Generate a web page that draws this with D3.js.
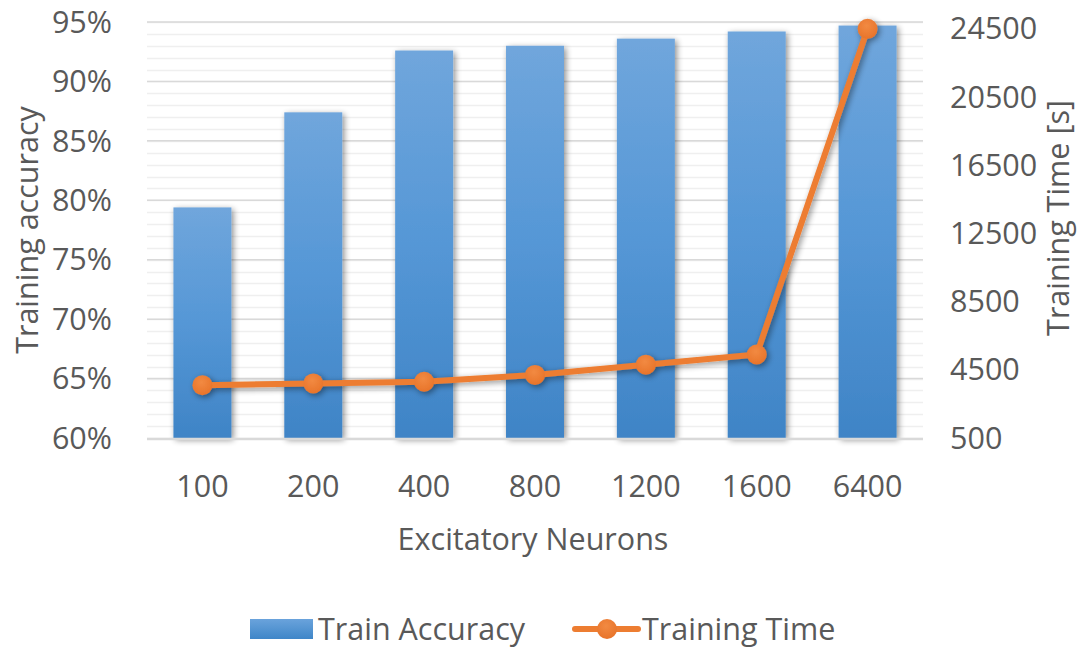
<!DOCTYPE html>
<html>
<head>
<meta charset="utf-8">
<script src="https://cdn.jsdelivr.net/npm/d3@7"></script>
<style>
  html, body { margin: 0; padding: 0; background: #fff; }
  svg { display: block; font-family: "Open Sans", sans-serif; }
</style>
</head>
<body>
<svg id="chart" width="1080" height="649"></svg>
<script>
// Neuron counts on the category axis
const categories = ["100", "200", "400", "800", "1200", "1600", "6400"];
// Training accuracy per network size (fraction)
const accuracy = [0.794, 0.874, 0.926, 0.930, 0.936, 0.942, 0.947];
// Training time per network size (seconds)
const trainingTime = [3600, 3700, 3800, 4200, 4800, 5400, 24500];
// Axis tick values
const accTicks = [0.60, 0.65, 0.70, 0.75, 0.80, 0.85, 0.90, 0.95];
const timeTicks = [500, 4500, 8500, 12500, 16500, 20500, 24500];

const svg = d3.select("#chart");
const plot = { left: 147, right: 923, top: 22, bottom: 438 };
const textColor = "#595959";
const fontSize = 30.5;

const x = d3.scaleBand()
  .domain(categories)
  .range([plot.left, plot.right])
  .paddingInner(0.477)
  .paddingOuter(0.2385);

const yAcc = d3.scaleLinear().domain([0.60, 0.95]).range([plot.bottom, plot.top]);
const yTime = d3.scaleLinear().domain([500, 24900]).range([plot.bottom, plot.top]);

const defs = svg.append("defs");

const barGrad = defs.append("linearGradient")
  .attr("id", "barGrad").attr("x1", 0).attr("y1", 0).attr("x2", 0).attr("y2", 1);
barGrad.append("stop").attr("offset", "0%").attr("stop-color", "#70a6dc");
barGrad.append("stop").attr("offset", "50%").attr("stop-color", "#5597d6");
barGrad.append("stop").attr("offset", "100%").attr("stop-color", "#3f84c6");

const legGrad = defs.append("linearGradient")
  .attr("id", "legGrad").attr("x1", 0).attr("y1", 0).attr("x2", 0).attr("y2", 1);
legGrad.append("stop").attr("offset", "0%").attr("stop-color", "#6aa3dc");
legGrad.append("stop").attr("offset", "100%").attr("stop-color", "#3f86c8");

const markGrad = defs.append("radialGradient")
  .attr("id", "markGrad").attr("cx", "45%").attr("cy", "35%").attr("r", "65%");
markGrad.append("stop").attr("offset", "0%").attr("stop-color", "#f28a42");
markGrad.append("stop").attr("offset", "100%").attr("stop-color", "#e8742a");

const shadow = defs.append("filter").attr("id", "shadow")
  .attr("x", "-30%").attr("y", "-10%").attr("width", "160%").attr("height", "130%");
shadow.append("feGaussianBlur").attr("in", "SourceAlpha").attr("stdDeviation", 3.2);
shadow.append("feOffset").attr("dx", 2).attr("dy", 2).attr("result", "off");
shadow.append("feComponentTransfer").append("feFuncA").attr("type", "linear").attr("slope", 0.45);
const merge = shadow.append("feMerge");
merge.append("feMergeNode");
merge.append("feMergeNode").attr("in", "SourceGraphic");

// Gridlines: light minor lines every 1 %, darker major lines every 5 %
const minor = d3.range(60, 96).map(d => d / 100);
svg.append("g").selectAll("line").data(minor).join("line")
  .attr("x1", plot.left).attr("x2", plot.right)
  .attr("y1", d => Math.round(yAcc(d)) + 0.5).attr("y2", d => Math.round(yAcc(d)) + 0.5)
  .attr("stroke", "#efefef").attr("stroke-width", 1.5);
svg.append("g").selectAll("line").data(accTicks.slice(1)).join("line")
  .attr("x1", plot.left).attr("x2", plot.right)
  .attr("y1", d => yAcc(d)).attr("y2", d => yAcc(d))
  .attr("stroke", "#d9d9d9").attr("stroke-width", 1.5);

// Accuracy bars
svg.append("g").selectAll("rect").data(accuracy).join("rect")
  .attr("x", (d, i) => x(categories[i]))
  .attr("width", x.bandwidth())
  .attr("y", d => yAcc(d))
  .attr("height", d => yAcc(0.60) - yAcc(d))
  .attr("fill", "url(#barGrad)")
  .attr("filter", "url(#shadow)");

// Category axis baseline
svg.append("line")
  .attr("x1", plot.left).attr("x2", plot.right)
  .attr("y1", plot.bottom + 1).attr("y2", plot.bottom + 1)
  .attr("stroke", "#d9d9d9").attr("stroke-width", 2.5);

// Training time line with markers
const cx = (d, i) => x(categories[i]) + x.bandwidth() / 2;
const lineGen = d3.line().x(cx).y(d => yTime(d));
const lineG = svg.append("g").attr("filter", "url(#shadow)");
lineG.append("path").datum(trainingTime)
  .attr("d", lineGen)
  .attr("fill", "none").attr("stroke", "#ed7d31")
  .attr("stroke-width", 6).attr("stroke-linejoin", "round");
lineG.selectAll("circle").data(trainingTime).join("circle")
  .attr("cx", cx).attr("cy", d => yTime(d)).attr("r", 10)
  .attr("fill", "url(#markGrad)");

// Left axis labels
svg.append("g").selectAll("text").data(accTicks).join("text")
  .attr("x", 112).attr("y", d => yAcc(d)).attr("dy", "0.35em")
  .attr("text-anchor", "end").attr("fill", textColor).attr("font-size", fontSize)
  .text(d => d3.format(".0%")(d));

// Right axis labels
svg.append("g").selectAll("text").data(timeTicks).join("text")
  .attr("x", 950).attr("y", d => yTime(d)).attr("dy", "0.35em")
  .attr("text-anchor", "start").attr("fill", textColor).attr("font-size", fontSize)
  .text(d => d);

// Category labels
svg.append("g").selectAll("text").data(categories).join("text")
  .attr("x", d => x(d) + x.bandwidth() / 2).attr("y", 486).attr("dy", "0.35em")
  .attr("text-anchor", "middle").attr("fill", textColor).attr("font-size", fontSize)
  .text(d => d);

// Axis titles
svg.append("text")
  .attr("x", 533).attr("y", 539).attr("dy", "0.35em")
  .attr("text-anchor", "middle").attr("fill", textColor).attr("font-size", fontSize)
  .text("Excitatory Neurons");
svg.append("text")
  .attr("transform", "translate(27,230) rotate(-90)").attr("dy", "0.35em")
  .attr("text-anchor", "middle").attr("fill", textColor).attr("font-size", fontSize)
  .text("Training accuracy");
svg.append("text")
  .attr("transform", "translate(1058,218) rotate(-90)").attr("dy", "0.35em")
  .attr("text-anchor", "middle").attr("fill", textColor).attr("font-size", fontSize)
  .text("Training Time [s]");

// Legend
const leg = svg.append("g");
leg.append("rect").attr("x", 250).attr("y", 619).attr("width", 63).attr("height", 20)
  .attr("fill", "url(#legGrad)");
leg.append("text").attr("x", 318).attr("y", 629).attr("dy", "0.35em")
  .attr("fill", textColor).attr("font-size", fontSize).text("Train Accuracy");
leg.append("line").attr("x1", 575).attr("x2", 638).attr("y1", 629).attr("y2", 629)
  .attr("stroke", "#ed7d31").attr("stroke-width", 6).attr("stroke-linecap", "round");
leg.append("circle").attr("cx", 607).attr("cy", 629).attr("r", 10).attr("fill", "url(#markGrad)");
leg.append("text").attr("x", 642).attr("y", 629).attr("dy", "0.35em")
  .attr("fill", textColor).attr("font-size", fontSize).text("Training Time");
</script>
</body>
</html>
